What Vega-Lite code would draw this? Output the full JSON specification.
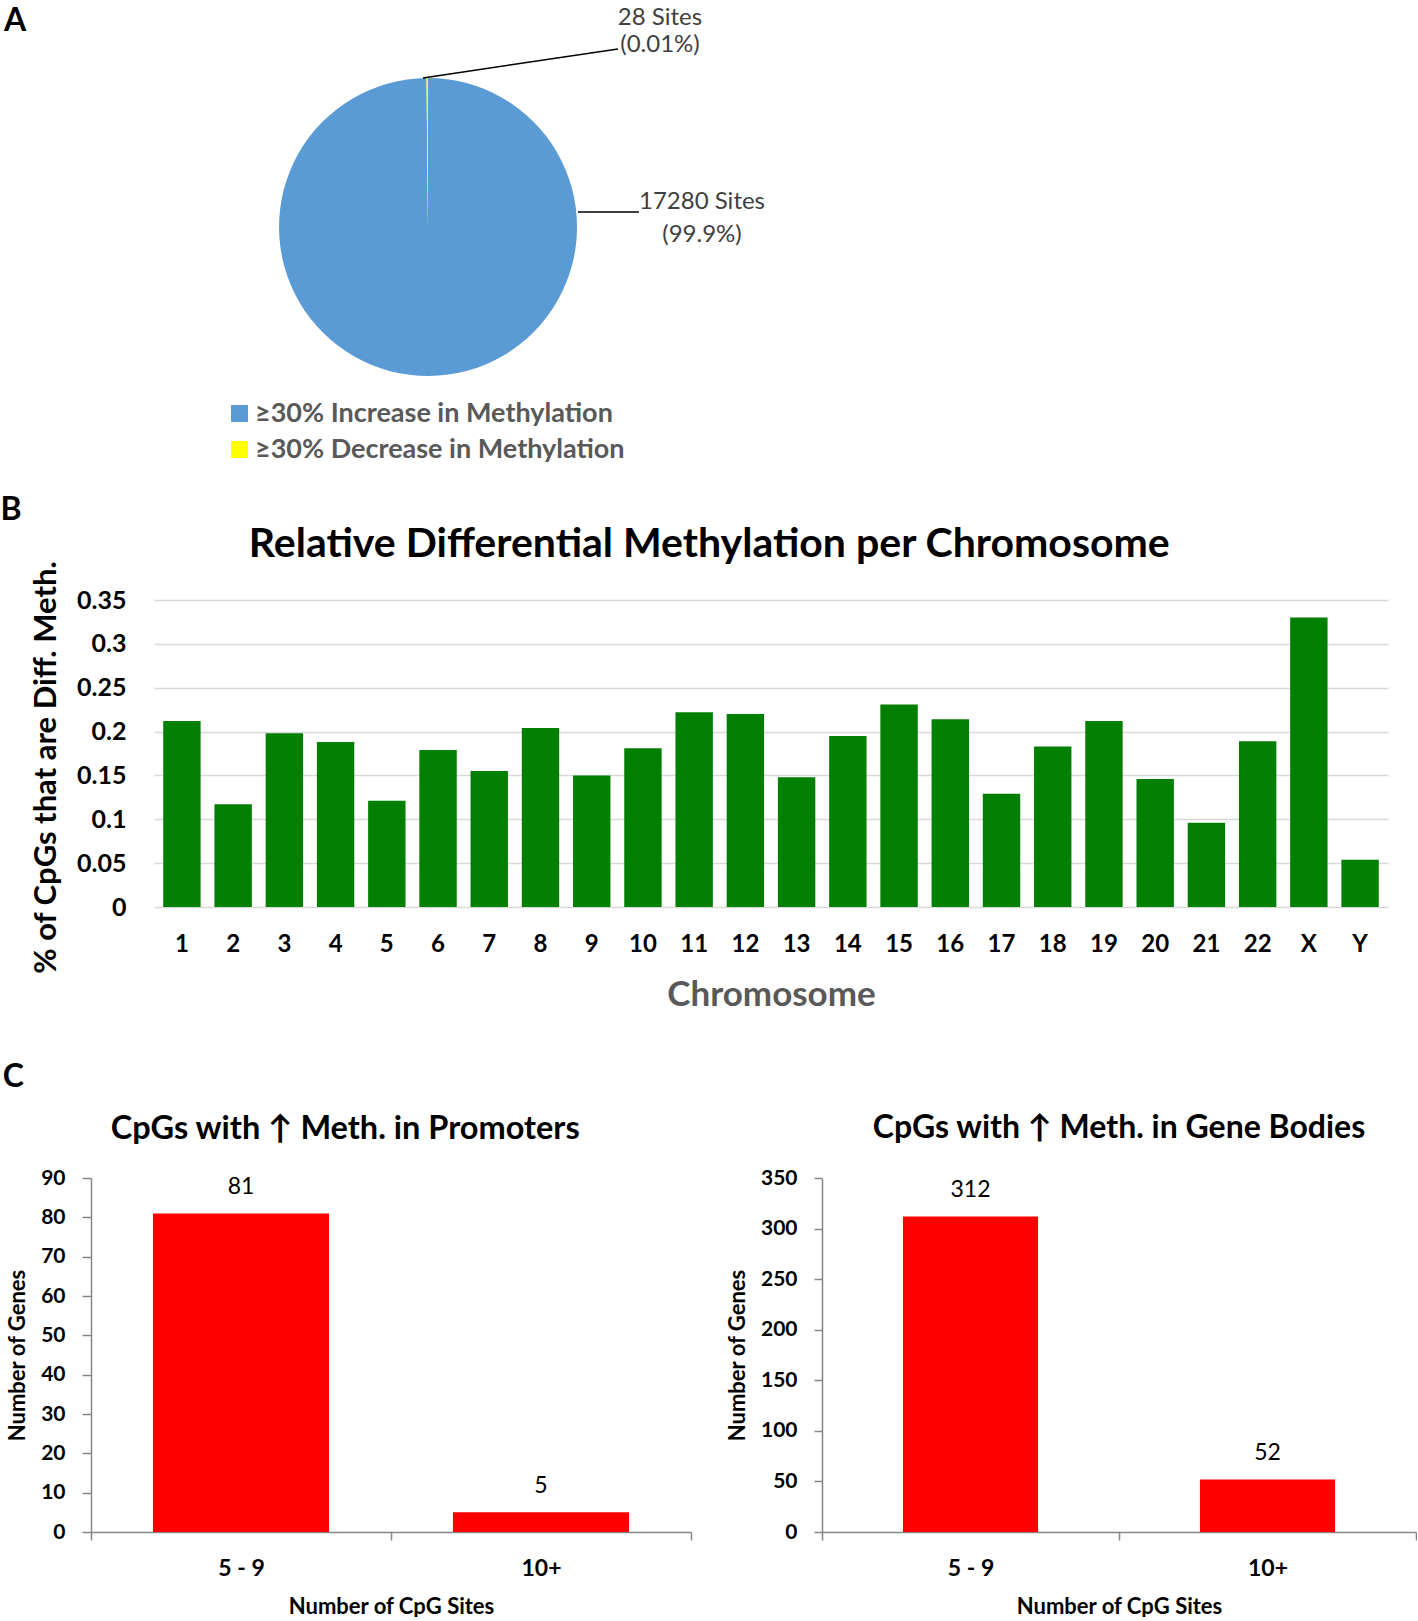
{
  "$schema": "https://vega.github.io/schema/vega-lite/v6.json",
  "padding": {"left": 0, "top": 3, "right": 0, "bottom": 0},
  "background": "white",
  "config": {"font": "Lato", "view": {"stroke": null}},
  "spacing": 43,
  "vconcat": [
    {
      "width": 674,
      "height": 448,
      "layer": [
        {
          "data": {"values": [
            {"category": "≥30% Increase in Methylation", "sites": 17280},
            {"category": "≥30% Decrease in Methylation", "sites": 28}
          ]},
          "mark": {"type": "arc", "outerRadius": 149},
          "encoding": {
            "theta": {"field": "sites", "type": "quantitative", "stack": true},
            "order": {"field": "sites", "sort": "descending"},
            "color": {
              "field": "category", "type": "nominal",
              "scale": {"domain": ["≥30% Increase in Methylation", "≥30% Decrease in Methylation"], "range": ["#5B9BD5", "#FFFF00"]},
              "legend": {"title": null, "orient": "none", "legendX": 135, "legendY": 397, "symbolType": "square", "symbolSize": 289, "symbolStrokeWidth": 0, "labelFontSize": 27, "labelFontWeight": "bold", "labelColor": "#595959", "labelLimit": 0, "rowPadding": 8, "labelOffset": 2}
            }
          }
        },
        {
          "data": {"values": [
            {"seg": "small", "x": -0.034, "y": 1.0, "x2": 1.275, "y2": 1.195},
            {"seg": "large", "x": 1.007, "y": 0.1, "x2": 1.416, "y2": 0.1}
          ]},
          "mark": {"type": "rule", "color": "#000000", "strokeWidth": 1.5},
          "encoding": {
            "x": {"field": "x", "type": "quantitative", "scale": {"domain": [-2.262, 2.262], "nice": false, "zero": false}, "axis": null},
            "y": {"field": "y", "type": "quantitative", "scale": {"domain": [-1.503, 1.503], "nice": false, "zero": false}, "axis": null},
            "x2": {"field": "x2"},
            "y2": {"field": "y2"}
          }
        },
        {
          "data": {"values": [
            {"label": "28 Sites", "x": 1.557, "y": 1.40},
            {"label": "(0.01%)", "x": 1.557, "y": 1.22},
            {"label": "17280 Sites", "x": 1.839, "y": 0.171},
            {"label": "(99.9%)", "x": 1.839, "y": -0.051}
          ]},
          "mark": {"type": "text", "fontSize": 24, "color": "#404040", "align": "center", "baseline": "middle"},
          "encoding": {
            "x": {"field": "x", "type": "quantitative"},
            "y": {"field": "y", "type": "quantitative"},
            "text": {"field": "label"}
          }
        },
        {
          "data": {"values": [{"label": "A", "x": -2.772, "y": 1.383}]},
          "mark": {"type": "text", "fontSize": 32, "fontWeight": "bold", "color": "#000000", "align": "center", "baseline": "middle"},
          "encoding": {
            "x": {"field": "x", "type": "quantitative"},
            "y": {"field": "y", "type": "quantitative"},
            "text": {"field": "label"}
          }
        }
      ]
    },
    {
      "spacing": 49,
      "vconcat": [
        {
          "title": {"text": "B", "anchor": "start", "frame": "bounds", "dx": -30, "offset": -3, "fontSize": 32, "fontWeight": "bold", "color": "#000000"},
          "vconcat": [
            {
              "width": 1297,
              "height": 307,
              "title": {"text": "Relative Differential Methylation per Chromosome", "anchor": "middle", "frame": "bounds", "fontSize": 41, "fontWeight": "bold", "color": "#000000", "offset": -6},
              "data": {"values": [
                {"chromosome": "1", "pct": 0.212},
                {"chromosome": "2", "pct": 0.117},
                {"chromosome": "3", "pct": 0.198},
                {"chromosome": "4", "pct": 0.188},
                {"chromosome": "5", "pct": 0.121},
                {"chromosome": "6", "pct": 0.179},
                {"chromosome": "7", "pct": 0.155},
                {"chromosome": "8", "pct": 0.204},
                {"chromosome": "9", "pct": 0.150},
                {"chromosome": "10", "pct": 0.181},
                {"chromosome": "11", "pct": 0.222},
                {"chromosome": "12", "pct": 0.220},
                {"chromosome": "13", "pct": 0.148},
                {"chromosome": "14", "pct": 0.195},
                {"chromosome": "15", "pct": 0.231},
                {"chromosome": "16", "pct": 0.214},
                {"chromosome": "17", "pct": 0.129},
                {"chromosome": "18", "pct": 0.183},
                {"chromosome": "19", "pct": 0.212},
                {"chromosome": "20", "pct": 0.146},
                {"chromosome": "21", "pct": 0.096},
                {"chromosome": "22", "pct": 0.189},
                {"chromosome": "X", "pct": 0.330},
                {"chromosome": "Y", "pct": 0.054}
              ]},
              "mark": {"type": "bar", "color": "#007F00"},
              "encoding": {
                "x": {
                  "field": "chromosome", "type": "ordinal", "sort": null,
                  "scale": {"range": [63, 1297], "paddingInner": 0.27, "paddingOuter": 0.18},
                  "axis": {"title": "Chromosome", "labelAngle": 0, "labelFontSize": 24, "labelFontWeight": "bold", "labelColor": "#000000", "labelPadding": 25, "ticks": false, "domain": false, "titleFontSize": 35, "titleFontWeight": "bold", "titleColor": "#595959", "titlePadding": 21}
                },
                "y": {
                  "field": "pct", "type": "quantitative",
                  "scale": {"domain": [0, 0.35], "nice": false},
                  "axis": {"title": "% of CpGs that are Diff. Meth.", "offset": -63, "values": [0, 0.05, 0.1, 0.15, 0.2, 0.25, 0.3, 0.35], "format": "~g", "labelFontSize": 25, "labelFontWeight": "bold", "labelColor": "#000000", "labelPadding": 28, "ticks": false, "domain": false, "grid": true, "gridColor": "#D9D9D9", "gridWidth": 1.5, "titleFontSize": 31, "titleFontWeight": "bold", "titleColor": "#000000", "titlePadding": 14, "titleY": 167}
                }
              }
            }
          ]
        },
        {
          "title": {"text": "C", "anchor": "start", "frame": "bounds", "dx": -4, "offset": 18, "fontSize": 32, "fontWeight": "bold", "color": "#000000"},
          "spacing": 34,
          "hconcat": [
            {
              "width": 600,
              "height": 354,
              "title": {"text": "CpGs with ↑ Meth. in Promoters", "anchor": "middle", "frame": "bounds", "fontSize": 32.5, "fontWeight": "bold", "color": "#000000", "offset": 22, "dx": -4},
              "data": {"values": [
                {"sites": "5 - 9", "genes": 81},
                {"sites": "10+", "genes": 5}
              ]},
              "encoding": {
                "x": {
                  "field": "sites", "type": "nominal", "sort": null,
                  "scale": {"paddingInner": 0, "paddingOuter": 0},
                  "axis": {"title": "Number of CpG Sites", "labelAngle": 0, "tickBand": "extent", "domainColor": "#868686", "domainWidth": 1.5, "tickColor": "#868686", "tickWidth": 1.5, "tickSize": 8, "labelFontSize": 23, "labelFontWeight": "bold", "labelColor": "#000000", "labelPadding": 17, "titleFontSize": 22, "titleFontWeight": "bold", "titleColor": "#000000", "titlePadding": 16}
                },
                "y": {
                  "field": "genes", "type": "quantitative",
                  "scale": {"domain": [0, 90], "nice": false},
                  "axis": {"title": "Number of Genes", "values": [0, 10, 20, 30, 40, 50, 60, 70, 80, 90], "grid": false, "domainColor": "#868686", "domainWidth": 1.5, "tickColor": "#868686", "tickWidth": 1.5, "tickSize": 9, "labelFontSize": 21, "labelFontWeight": "bold", "labelColor": "#000000", "labelPadding": 17, "titleFontSize": 22, "titleFontWeight": "bold", "titleColor": "#000000", "titlePadding": 11}
                }
              },
              "layer": [
                {"mark": {"type": "bar", "color": "#FF0000", "width": {"band": 0.587}}},
                {"mark": {"type": "text", "fontSize": 23, "color": "#000000", "baseline": "middle", "dy": -26}, "encoding": {"text": {"field": "genes", "type": "quantitative"}}}
              ]
            },
            {
              "width": 594,
              "height": 354,
              "title": {"text": "CpGs with ↑ Meth. in Gene Bodies", "anchor": "middle", "frame": "group", "fontSize": 32, "fontWeight": "bold", "color": "#000000", "offset": 22},
              "data": {"values": [
                {"sites": "5 - 9", "genes": 312},
                {"sites": "10+", "genes": 52}
              ]},
              "encoding": {
                "x": {
                  "field": "sites", "type": "nominal", "sort": null,
                  "scale": {"paddingInner": 0, "paddingOuter": 0},
                  "axis": {"title": "Number of CpG Sites", "labelAngle": 0, "tickBand": "extent", "domainColor": "#868686", "domainWidth": 1.5, "tickColor": "#868686", "tickWidth": 1.5, "tickSize": 8, "labelFontSize": 23, "labelFontWeight": "bold", "labelColor": "#000000", "labelPadding": 17, "titleFontSize": 22, "titleFontWeight": "bold", "titleColor": "#000000", "titlePadding": 16}
                },
                "y": {
                  "field": "genes", "type": "quantitative",
                  "scale": {"domain": [0, 350], "nice": false},
                  "axis": {"title": "Number of Genes", "values": [0, 50, 100, 150, 200, 250, 300, 350], "grid": false, "domainColor": "#868686", "domainWidth": 1.5, "tickColor": "#868686", "tickWidth": 1.5, "tickSize": 8, "labelFontSize": 21, "labelFontWeight": "bold", "labelColor": "#000000", "labelPadding": 17, "titleFontSize": 22, "titleFontWeight": "bold", "titleColor": "#000000", "titlePadding": 11}
                }
              },
              "layer": [
                {"mark": {"type": "bar", "color": "#FF0000", "width": {"band": 0.455}}},
                {"mark": {"type": "text", "fontSize": 23, "color": "#000000", "baseline": "middle", "dy": -26}, "encoding": {"text": {"field": "genes", "type": "quantitative"}}}
              ]
            }
          ]
        }
      ]
    }
  ]
}
